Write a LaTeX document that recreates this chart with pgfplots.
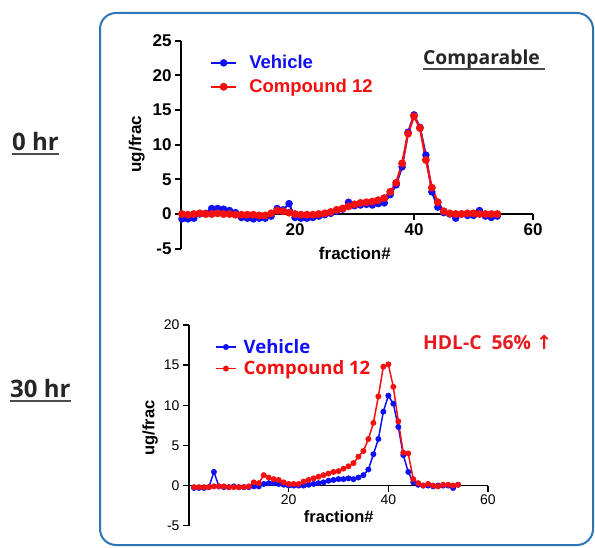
\documentclass[border=0pt]{standalone}
\usepackage{fontspec}
\setmainfont{Liberation Sans}
\newfontfamily\opensans{Open Sans}
\newfontfamily\dejavu{DejaVu Sans}
\usepackage{pgfplots}
\usepackage{pgfplotstable}
\pgfplotsset{compat=1.18}

\definecolor{frameblue}{HTML}{2E75B6}
\definecolor{vblue}{HTML}{1010F5}
\definecolor{cred}{HTML}{F51010}
\definecolor{hdlred}{HTML}{E8191E}

% 0 hr: fraction, vehicle, compound 12
\pgfplotstableread{
frac veh cmp
1 -0.7 0.0
2 -0.7 -0.1
3 -0.6 0.0
4 0.0 0.1
5 0.1 0.0
6 0.8 0.0
7 0.8 0.1
8 0.7 0.0
9 0.5 0.0
10 0.2 -0.1
11 -0.5 -0.1
12 -0.6 -0.1
13 -0.7 -0.1
14 -0.6 -0.2
15 -0.6 -0.2
16 -0.3 0.1
17 0.8 0.5
18 0.6 0.4
19 1.5 0.2
20 -0.5 0.0
21 -0.6 -0.1
22 -0.6 -0.1
23 -0.5 -0.1
24 -0.3 0.0
25 -0.1 0.1
26 0.1 0.3
27 0.4 0.6
28 0.7 0.8
29 1.7 1.1
30 1.2 1.4
31 1.3 1.6
32 1.4 1.7
33 1.3 1.8
34 1.5 2.0
35 1.6 2.3
36 2.8 3.2
37 4.2 4.5
38 6.8 7.3
39 11.8 11.6
40 14.3 14.1
41 12.5 12.4
42 8.5 7.8
43 3.2 3.8
44 1.0 1.7
45 0.2 0.4
46 0.0 0.1
47 -0.6 0.0
48 0.0 0.0
49 -0.2 0.1
50 -0.2 0.1
51 0.5 0.0
52 -0.3 0.0
53 -0.5 0.0
54 -0.3 0.0
}\zerohr

% 30 hr
\pgfplotstableread{
frac veh cmp
1 -0.3 -0.2
2 -0.3 -0.2
3 -0.3 -0.2
4 -0.2 -0.2
5 1.7 -0.1
6 -0.1 -0.1
7 -0.2 -0.1
8 -0.2 -0.2
9 -0.1 -0.2
10 -0.2 -0.2
11 -0.2 -0.2
12 -0.2 -0.1
13 -0.1 0.4
14 -0.1 0.3
15 0.2 1.3
16 0.3 1.0
17 0.3 0.8
18 0.2 0.7
19 0.1 0.4
20 0.0 0.2
21 0.0 0.2
22 0.0 0.2
23 0.0 0.5
24 0.1 0.7
25 0.2 0.9
26 0.3 1.1
27 0.4 1.3
28 0.6 1.5
29 0.7 1.7
30 0.8 1.8
31 0.8 2.1
32 0.9 2.4
33 0.8 2.8
34 1.0 3.6
35 1.3 4.3
36 2.0 5.8
37 3.9 7.8
38 5.8 11.1
39 9.2 14.8
40 11.2 15.1
41 10.2 12.3
42 7.3 8.0
43 3.8 4.1
44 1.7 4.0
45 0.4 0.8
46 0.1 0.3
47 0.0 0.0
48 0.0 0.2
49 -0.1 0.0
50 0.0 -0.1
51 0.0 0.1
52 0.0 0.1
53 -0.3 0.0
54 0.1 0.1
}\thirtyhr

\pgfplotsset{
  prism/.style={
    scale only axis,
    enlargelimits=false,
    clip=false,
    axis x line=middle,
    axis y line=left,
    axis line style={-},
    tick align=outside,
    major tick length=6pt,
    hide obscured x ticks=false,
    hide obscured y ticks=false,
    /pgf/number format/assume math mode=true,
    legend cell align=left,
    legend style={draw=none, fill=none, anchor=north west, inner sep=0pt,
      row sep=5pt, column sep=11pt, nodes={inner sep=1pt}},
  },
}

\begin{document}
\begin{tikzpicture}
\useasboundingbox (0,0) rectangle (595pt,547pt);

\draw[frameblue, line width=2pt, rounded corners=16pt] (100pt,2pt) rectangle (593pt,534pt);

% top panel, 0 hr
\begin{axis}[
    prism,
    at={(181pt,298.3pt)}, anchor=south west,
    width=352pt, height=208pt,
    xmin=0.84, xmax=60, ymin=-5, ymax=25,
    xtick={20,40,60}, ytick={-5,0,...,25},
    axis line style={line width=1.8pt},
    every tick/.style={black, line width=1.8pt},
    ticklabel style={font=\bfseries\fontsize{17}{17}\selectfont},
    xlabel={fraction\#}, ylabel={ug/frac},
    xlabel style={at={(axis description cs:0.494,0)}, anchor=center, yshift=-5pt,
      font=\bfseries\fontsize{17}{17}\selectfont},
    ylabel style={at={(axis description cs:-0.126,0.503)}, anchor=center, rotate=0,
      font=\bfseries\fontsize{17}{17}\selectfont},
    legend style={at={(axis description cs:0.082,0.935)}, row sep=7pt,
      font=\bfseries\fontsize{18.5}{18.5}\selectfont},
    legend image code/.code={\draw[mark repeat=2,mark phase=2]
      plot coordinates {(0pt,0pt)(12.5pt,0pt)(25pt,0pt)};},
  ]
\addplot[vblue, line width=2pt, mark=*, mark size=2.7pt] table[x=frac, y=veh] {\zerohr};
\addlegendentry{\textcolor{vblue}{Vehicle}}
\addplot[cred, line width=2.2pt, mark=*, mark size=2.8pt] table[x=frac, y=cmp] {\zerohr};
\addlegendentry{\textcolor{cred}{Compound 12}}
\end{axis}

% bottom panel, 30 hr
\begin{axis}[
    prism,
    at={(189pt,21.3pt)}, anchor=south west,
    width=299pt, height=200.7pt,
    xmin=0, xmax=60, ymin=-5, ymax=20,
    xtick={20,40,60}, ytick={-5,0,...,20},
    axis line style={line width=1.5pt},
    every tick/.style={black, line width=1.5pt},
    ticklabel style={font=\fontsize{14}{14}\selectfont},
    xlabel={fraction\#}, ylabel={ug/frac},
    xlabel style={at={(axis description cs:0.501,0)}, anchor=center, yshift=9pt,
      font=\bfseries\fontsize{16.5}{16.5}\selectfont},
    ylabel style={at={(axis description cs:-0.13,0.487)}, anchor=center, rotate=0,
      font=\bfseries\fontsize{16.5}{16.5}\selectfont},
    legend style={at={(axis description cs:0.087,0.935)},
      font=\opensans\bfseries\fontsize{18.5}{18.5}\selectfont, row sep=4pt, column sep=6pt},
    legend image code/.code={\draw[mark repeat=2,mark phase=2]
      plot coordinates {(0pt,0pt)(10pt,0pt)(20pt,0pt)};},
  ]
\addplot[vblue, line width=1.5pt, mark=*, mark size=2.2pt] table[x=frac, y=veh] {\thirtyhr};
\addlegendentry{\textcolor{vblue}{Vehicle}}
\addplot[cred, line width=1.5pt, mark=*, mark size=2.2pt] table[x=frac, y=cmp] {\thirtyhr};
\addlegendentry{\textcolor{cred}{Compound 12}}
\end{axis}

% panel titles and notes
\node (h0) [anchor=base west, inner sep=0pt, text=black!85]
  at (12pt,396pt) {\opensans\bfseries\fontsize{24}{24}\selectfont 0 hr};
\draw[black!70, line width=1.6pt] ([yshift=-3pt]h0.base west) -- ([yshift=-3pt]h0.base east);
\node (h30) [anchor=base west, inner sep=0pt, text=black!85]
  at (10pt,149pt) {\opensans\bfseries\fontsize{24}{24}\selectfont 30 hr};
\draw[black!70, line width=1.6pt] ([yshift=-3pt]h30.base west) -- ([yshift=-3pt]h30.base east);
\node (cmp) [anchor=base west, inner sep=0pt, text=black!85]
  at (423pt,482pt) {\opensans\bfseries\fontsize{19.3}{19.3}\selectfont Comparable};
\draw[black!70, line width=1.6pt] ([yshift=-4pt]cmp.base west) -- ([yshift=-4pt,xshift=5pt]cmp.base east);
\node [anchor=base west, inner sep=0pt, text=hdlred]
  at (423pt,197pt) {\opensans\bfseries\fontsize{19.3}{19.3}\selectfont HDL-C\ \ 56\% {\dejavu\bfseries ↑}};
\end{tikzpicture}
\end{document}
